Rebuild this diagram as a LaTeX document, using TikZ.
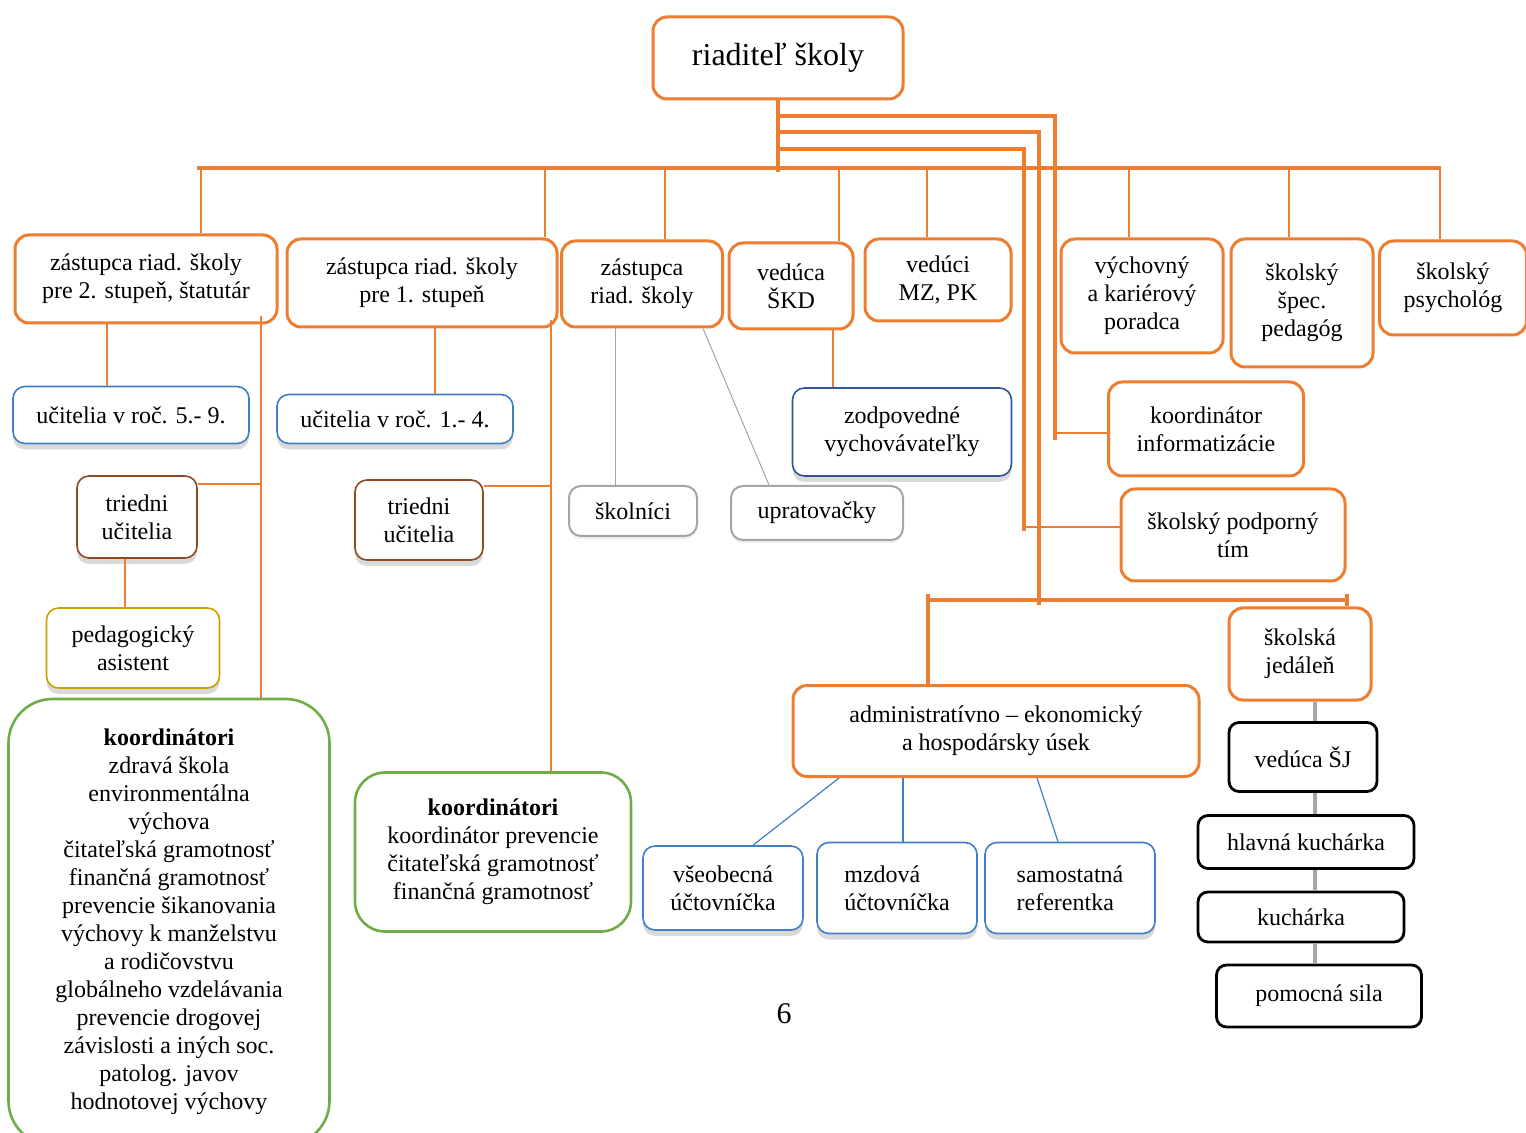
\documentclass[tikz,border=0pt]{standalone}
\usepackage{fontspec}
\setmainfont{Liberation Serif}
\usetikzlibrary{positioning, calc, shadows}

\definecolor{orgline}{HTML}{ED7D31}
\definecolor{blueline}{HTML}{3F7FC6}
\definecolor{navyline}{HTML}{2F5597}
\definecolor{brownline}{HTML}{8E4B23}
\definecolor{goldline}{HTML}{C9A000}
\definecolor{greenline}{HTML}{70AD47}
\definecolor{grayline}{HTML}{A5A5A5}

\begin{document}
\begin{tikzpicture}[
  x=0.5pt, y=-0.5pt,
  font=\fontsize{12}{14}\selectfont,
  obox/.style={draw=orgline, line width=1.5pt, rounded corners=7pt, fill=white,
    align=center, inner sep=2pt},
  bbox/.style={draw=blueline, line width=0.8pt, rounded corners=6pt, fill=white,
    align=center, inner sep=2pt,
    drop shadow={shadow xshift=0pt, shadow yshift=-3pt, opacity=0.3}},
  brbox/.style={bbox, draw=brownline},
  gdbox/.style={bbox, draw=goldline},
  gnbox/.style={draw=greenline, line width=1.3pt, fill=white, align=center},
  gybox/.style={draw=grayline, line width=1pt, rounded corners=6pt, fill=white,
    align=center, drop shadow={shadow xshift=0pt, shadow yshift=-1.5pt, opacity=0.15}},
  kbox/.style={draw=black, line width=1.4pt, rounded corners=5pt, fill=white,
    align=center},
  tline/.style={draw=orgline, line width=0.7pt},
  mline/.style={draw=orgline, line width=1.75pt},
  bline/.style={draw=orgline, line width=2pt},
  gyline/.style={draw=grayline, line width=0.5pt},
  blline/.style={draw=blueline, line width=0.6pt},
  kline/.style={draw=grayline, line width=2pt}
]
\useasboundingbox (0,0) rectangle (1526,1133);

% director and the row under him
\node[obox, minimum width=125pt, minimum height=41pt,
  font=\fontsize{16}{18}\selectfont] (riad) at (778,58) {riaditeľ školy};

\node[obox, minimum width=131pt, minimum height=44pt] (z2) at (146,279)
  {zástupca riad. školy\\pre 2. stupeň, štatutár};
\node[obox, minimum width=135pt, minimum height=44pt] (z1) at (422,283)
  {zástupca riad. školy\\pre 1. stupeň};
\node[obox, minimum width=80.5pt, minimum height=43pt] (z3) at (642,284)
  {zástupca\\riad. školy};
\node[obox, minimum width=62pt, minimum height=43pt] (skd) at (791,286)
  {vedúca\\ŠKD};
\node[obox, minimum width=73pt, minimum height=41pt] (mz) at (938,280)
  {vedúci\\MZ, PK};
\node[obox, minimum width=81pt, minimum height=57pt] (vkp) at (1142,296)
  {výchovný\\a kariérový\\poradca};
\node[obox, minimum width=71pt, minimum height=64pt] (ssp) at (1302,303)
  {školský\\špec.\\pedagóg};
\node[obox, minimum width=73.5pt, minimum height=47pt] (psy) at (1453,288)
  {školský\\psychológ};

% second stage
\node[bbox, minimum width=118pt, minimum height=28.5pt] (u59) at (131,415)
  {učitelia v roč. 5.- 9.};
\node[bbox, minimum width=118pt, minimum height=24.5pt] (u14) at (395,419)
  {učitelia v roč. 1.- 4.};
\node[brbox, minimum width=60pt, minimum height=41pt] (tu2) at (137,517)
  {triedni\\učitelia};
\node[brbox, minimum width=64pt, minimum height=40pt] (tu1) at (419,520)
  {triedni\\učitelia};
\node[gdbox, minimum width=86.5pt, minimum height=40pt] (pa) at (133,648)
  {pedagogický\\asistent};

\node[gnbox, rounded corners=22pt, minimum width=160.5pt, minimum height=223pt]
  (k2) at (169,922)
  {\textbf{koordinátori}\\zdravá škola\\environmentálna\\výchova\\čitateľská gramotnosť\\
   finančná gramotnosť\\prevencie šikanovania\\výchovy k manželstvu\\a rodičovstvu\\
   globálneho vzdelávania\\prevencie drogovej\\závislosti a iných soc.\\
   patolog. javov\\hodnotovej výchovy};
\node[gnbox, rounded corners=15pt, minimum width=138pt, minimum height=79.5pt]
  (k1) at (493,852)
  {\textbf{koordinátori}\\koordinátor prevencie\\čitateľská gramotnosť\\finančná gramotnosť};

\node[gybox, minimum width=64pt, minimum height=25pt] (skol) at (633,511) {školníci};
\node[gybox, minimum width=86pt, minimum height=27pt] (upr) at (817,513) {upratovačky};
\node[bbox, draw=navyline, minimum width=109.5pt, minimum height=44pt] (zv) at (902,432)
  {zodpovedné\\vychovávateľky};

\node[obox, minimum width=97.5pt, minimum height=47pt] (ki) at (1206,429)
  {koordinátor\\informatizácie};
\node[obox, minimum width=112pt, minimum height=46pt] (spt) at (1233,535)
  {školský podporný\\tím};

% economy and kitchen
\node[obox, minimum width=203pt, minimum height=45.5pt] (adm) at (996,731)
  {administratívno – ekonomický\\a hospodársky úsek};
\node[bbox, minimum width=80pt, minimum height=42pt] (vu) at (723,888)
  {všeobecná\\účtovníčka};
\node[bbox, align=left, minimum width=80pt, minimum height=45.5pt] (mu) at (897,888)
  {mzdová\\účtovníčka};
\node[bbox, align=left, minimum width=85pt, minimum height=45.5pt] (sr) at (1070,888)
  {samostatná\\referentka};

\node[obox, minimum width=71pt, minimum height=46pt] (sj) at (1300,654)
  {školská\\jedáleň};
\node[kbox, minimum width=74pt, minimum height=34.5pt] (vsj) at (1303,757) {vedúca ŠJ};
\node[kbox, minimum width=108pt, minimum height=26.5pt] (hk) at (1306,842) {hlavná kuchárka};
\node[kbox, minimum width=103pt, minimum height=25pt] (kuch) at (1301,917) {kuchárka};
\node[kbox, minimum width=102.5pt, minimum height=31pt] (ps) at (1319,996) {pomocná sila};

\node[font=\fontsize{15}{17}\selectfont] (pnum) at (784,1014) {6};

% main bar and the three long branches
\coordinate (barL) at (197,168);
\coordinate (barR) at (1441,168);
\coordinate (ja) at (1055,116);
\coordinate (jb) at (1039,132);
\coordinate (jc) at (1024,149);
\coordinate (jaEnd) at (1055,440);
\coordinate (jbEnd) at (1039,605);
\coordinate (jcEnd) at (1024,531);
\coordinate (b2L) at (928,600);
\coordinate (b2R) at (1347,600);

\draw[bline] (barL) -- (barR);
\draw[bline] (riad.south) -- ([yshift=-2pt]riad.south |- barL);
\draw[mline] (ja -| riad.south) -- (ja) -- (jaEnd);
\draw[mline] (jb -| riad.south) -- (jb) -- (jbEnd);
\draw[mline] (jc -| riad.south) -- (jc) -- (jcEnd);
\draw[tline] ([yshift=-2pt]ki.west) -- ([yshift=-2pt]ki.west -| ja);
\draw[tline] ([yshift=4pt]spt.west) -- ([yshift=4pt]spt.west -| jc);
\draw[bline] (b2L) -- (b2R);
\draw[mline] ([yshift=3pt]b2L) -- (b2L |- adm.north);
\draw[mline] ([yshift=3pt]b2R) -- (b2R |- sj.north);

% taps from the main bar
\foreach \nd/\dx in {z2/55, z1/123, z3/23, skd/48, mz/-11, vkp/-13, ssp/-13, psy/-13}
  \draw[tline] (\nd.north) ++(\dx,0) coordinate (tp) -- (tp |- barL);

% under the deputies
\draw[tline] (z2.south) ++(-39,0) coordinate (p1) -- (p1 |- u59.north);
\draw[tline] (z2.south) ++(115,-8) coordinate (p2) -- (p2 |- k2.north);
\draw[tline] ([yshift=16.5pt]tu2.east) -- ([yshift=16.5pt]tu2.east -| p2);
\draw[tline] ([xshift=-4pt]pa.north) -- ([xshift=-4pt]pa.north |- tu2.south);
\draw[tline] (z1.south) ++(13,0) coordinate (p3) -- (p3 |- u14.north);
\draw[tline] (z1.south) ++(129,-8) coordinate (p4) -- (p4 |- k1.north);
\draw[tline] ([yshift=17pt]tu1.east) -- ([yshift=17pt]tu1.east -| p4);
\draw[gyline] (z3.south) ++(-27,0) coordinate (p5) -- (p5 |- skol.north);
\draw[gyline] (z3.south) ++(61,0) -- ([xshift=-24pt]upr.north);
\draw[tline] (skd.south) ++(42,0) coordinate (p6) -- (p6 |- zv.north);

% economy section
\draw[blline] ([xshift=-78.5pt]adm.south) -- ([xshift=15pt]vu.north);
\draw[blline] ([xshift=-46.5pt]adm.south) -- ([xshift=-46.5pt]adm.south |- mu.north);
\draw[blline] ([xshift=20.5pt]adm.south) -- ([xshift=-6pt]sr.north);

% kitchen chain
\coordinate (kx) at (1315,0);
\draw[kline] (kx |- sj.south) -- (kx |- vsj.north);
\draw[kline] (kx |- vsj.south) -- (kx |- hk.north);
\draw[kline] (kx |- hk.south) -- (kx |- kuch.north);
\draw[kline] (kx |- kuch.south) -- (kx |- ps.north);

\end{tikzpicture}
\end{document}
